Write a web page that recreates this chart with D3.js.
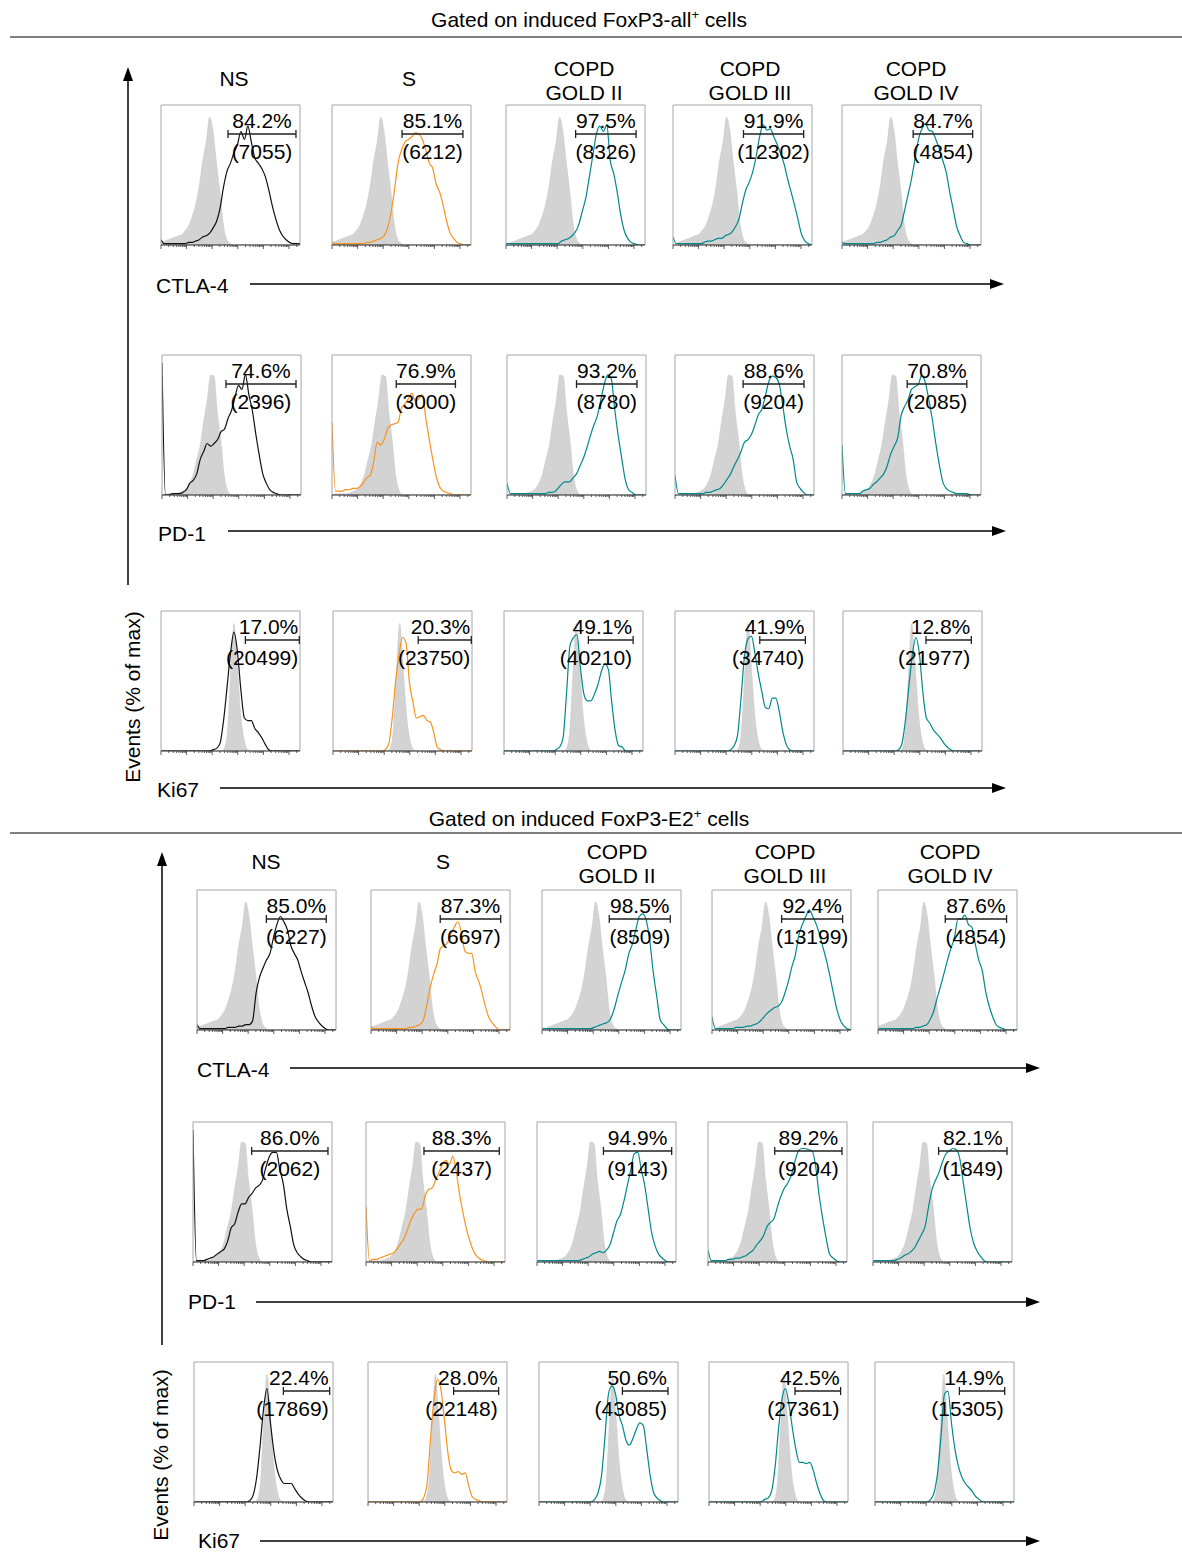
<!DOCTYPE html>
<html>
<head>
<meta charset="utf-8">
<script src="https://cdn.jsdelivr.net/npm/d3@7"></script>
<style>
  body { margin: 0; background: #fff; }
  text { font-family: "Liberation Sans", Arial, Helvetica, sans-serif; fill: #000; }
</style>
</head>
<body>
<svg id="fig" width="1182" height="1552"></svg>
<script>
// ---------------- data ----------------
const gatedPopulations = ["FoxP3-all", "FoxP3-E2"];
const groups = [["NS"], ["S"], ["COPD", "GOLD II"], ["COPD", "GOLD III"], ["COPD", "GOLD IV"]];
const markers = ["CTLA-4", "PD-1", "Ki67"];
const yAxisTitle = "Events (% of max)";

// isotype control histograms (% of max, 41 channel bins across the display range)
const isoCTLA4 = [2,3,4,5,6,7,8,11,15,22,31,45,64,78,97,86,62,40,15,4,1,0,0,0,0,0,0,0,0,0,0,0,0,0,0,0,0,0,0,0,0];
const isoPD1   = [0,1,1,1,1,2,3,5,9,16,27,38,56,72,91,90,62,40,14,3,0,0,0,0,0,0,0,0,0,0,0,0,0,0,0,0,0,0,0,0,0];
const isoKi67  = [0,0,0,0,0,0,0,0,0,0,0,0,0,0,0,0,0,0,1,12,58,97,64,27,8,1,0,0,0,0,0,0,0,0,0,0,0,0,0,0,0];

// channel offset of the isotype peak per panel [marker][group]
const isoShiftAll = [[0, 0, 0.035, 0.035, 0], [0, 0.01, 0.03, 0.035, 0.012], [0, -0.045, -0.005, 0, -0.03]];
const isoShiftE2  = [[0, -0.005, 0.035, 0.035, -0.02], [0, 0.01, 0.035, 0.015, 0.01], [0, -0.04, 0.005, 0.015, -0.03]];

// stained histograms, FoxP3-all+ cells [group][bin]
const allCTLA4 = [
  [4,1,1,1,1,1,1,1,2,2,3,4,6,7,9,13,18,28,44,56,62,70,76,86,80,90,78,66,62,58,52,42,30,20,12,7,4,2,1,1,1],
  [2,1,1,1,1,1,1,1,1,1,2,2,3,4,5,7,13,25,42,62,72,78,80,82,85,84,80,72,62,58,46,40,30,18,9,5,2,1,0,0,0],
  [1,1,1,1,1,1,1,1,1,1,1,1,1,1,1,1,3,4,5,7,10,16,26,36,52,68,84,90,86,91,64,54,40,23,11,5,2,1,0,0,0],
  [6,1,1,1,1,1,1,1,1,2,3,3,4,5,5,7,8,10,14,20,32,42,48,56,68,83,91,87,88,82,76,69,61,50,40,30,19,8,3,1,0],
  [2,1,1,1,1,1,1,1,1,1,2,2,3,4,6,7,11,15,26,38,50,65,80,88,92,87,86,80,73,64,55,40,27,14,7,2,1,0,0,0,0]
];
const allPD1 = [
  [100,0,0,1,1,1,2,4,9,11,16,27,33,39,37,39,42,48,50,58,64,74,83,80,91,76,64,46,30,16,9,4,2,1,0,0,0,0,0,0,0],
  [55,3,3,3,4,4,5,5,6,9,13,15,25,40,38,42,50,53,54,55,66,69,73,77,71,73,76,58,42,27,14,6,3,2,1,0,0,0,0,0,0],
  [9,1,1,1,1,1,1,1,1,1,1,1,2,2,3,6,9,10,10,13,16,22,28,36,45,53,60,72,84,91,88,65,45,28,12,4,2,0,0,0,0],
  [15,1,1,1,1,1,1,1,1,2,2,3,4,5,8,12,16,22,27,33,40,42,46,53,61,65,75,86,90,89,84,68,50,37,27,10,5,2,0,0,0],
  [38,1,1,1,1,1,3,4,5,8,10,13,16,22,31,37,43,60,67,72,80,82,84,91,85,72,57,39,23,10,5,3,2,1,1,1,1,0,0,0,0]
];
const allKi67 = [
  [0,0,0,0,0,0,0,0,0,0,0,0,0,0,0,1,2,6,23,48,74,90,75,46,25,23,23,17,14,10,5,1,0,0,0,0,0,0,0,0,0],
  [0,0,0,0,0,0,0,0,0,0,0,0,0,0,0,1,5,24,52,73,86,82,52,37,25,26,27,23,22,14,3,1,0,0,0,0,0,0,0,0,0],
  [0,0,0,0,0,0,0,0,0,0,0,0,0,0,0,1,3,10,44,80,86,88,63,43,38,38,43,50,60,66,62,37,15,4,3,0,0,0,0,0,0],
  [0,0,0,0,0,0,0,0,0,0,0,0,0,0,0,0,1,4,12,40,72,85,87,74,58,45,33,32,40,40,30,15,5,1,0,0,0,0,0,0,0],
  [0,0,0,0,0,0,0,0,0,0,0,0,0,0,0,0,1,6,24,50,74,86,73,44,25,21,16,13,10,6,3,1,0,0,0,0,0,0,0,0,0]
];

// stained histograms, FoxP3-E2+ cells [group][bin]
const e2CTLA4 = [
  [4,1,1,1,1,1,1,1,1,2,2,2,3,3,4,4,7,28,40,47,53,58,70,80,86,82,76,64,58,53,44,36,28,18,10,6,3,1,0,0,0],
  [2,1,1,1,1,1,1,1,1,1,1,2,2,3,4,7,18,32,42,50,62,64,66,73,78,82,74,60,58,58,44,37,28,17,9,5,2,0,0,0,0],
  [1,1,1,1,1,1,1,1,1,1,1,1,1,1,1,2,3,4,5,6,10,18,28,37,46,58,65,76,86,88,83,68,44,26,8,4,1,0,0,0,0],
  [10,1,1,1,1,1,1,2,2,2,3,3,4,5,7,10,13,15,17,18,21,28,37,48,57,72,80,86,91,86,80,72,62,52,40,27,15,7,3,1,0],
  [1,1,1,1,1,1,1,1,1,1,1,2,2,3,4,8,14,24,33,43,53,62,70,84,84,87,80,78,65,53,45,29,18,10,4,2,1,0,0,0,0]
];
const e2PD1 = [
  [100,1,1,1,2,3,4,6,8,10,16,26,29,38,44,44,49,52,56,58,62,72,80,83,83,70,59,40,27,13,7,4,2,1,0,0,0,0,0,0,0],
  [42,1,2,2,3,4,5,6,7,10,14,18,25,32,37,40,40,50,55,56,62,68,74,77,74,80,68,50,36,24,15,8,4,2,1,0,0,0,0,0,0],
  [1,1,1,1,1,1,1,1,1,1,1,1,1,2,3,4,6,7,8,7,9,13,22,31,36,46,58,70,82,83,70,58,40,22,12,6,3,1,0,0,0],
  [9,1,1,1,1,1,2,2,3,3,4,5,7,9,13,16,20,27,30,33,42,50,56,60,66,76,84,86,86,85,84,72,50,33,18,6,3,1,0,0,0],
  [1,1,1,1,1,1,1,2,3,5,6,8,11,16,21,27,42,55,62,68,76,82,84,86,85,78,60,42,25,14,8,4,1,0,0,0,0,0,0,0,0]
];
const e2Ki67 = [
  [0,0,0,0,0,0,0,0,0,0,0,0,0,0,0,0,1,5,18,42,70,86,60,38,24,17,14,14,14,10,6,3,1,0,0,0,0,0,0,0,0],
  [0,0,0,0,0,0,0,0,0,0,0,0,0,0,0,0,3,14,48,78,93,85,62,37,24,22,23,21,22,12,4,2,1,0,0,0,0,0,0,0,0],
  [0,0,0,0,0,0,0,0,0,0,0,0,0,0,0,0,2,7,20,50,82,88,82,66,58,47,43,48,55,60,58,40,20,7,3,1,0,0,0,0,0],
  [0,0,0,0,0,0,0,0,0,0,0,0,0,0,0,0,2,3,8,26,55,78,86,74,56,40,30,30,29,30,24,14,6,1,0,0,0,0,0,0,0],
  [0,0,0,0,0,0,0,0,0,0,0,0,0,0,0,0,2,7,22,50,82,84,60,40,27,19,14,11,8,4,2,0,0,0,0,0,0,0,0,0,0]
];

// positive gates (fraction of display range) [marker][group]
const allGates = [
  [[0.482, 0.971], [0.504, 0.942], [0.501, 0.936], [0.507, 0.940], [0.512, 0.940]],
  [[0.460, 0.964], [0.462, 0.888], [0.500, 0.935], [0.490, 0.928], [0.469, 0.898]],
  [[0.607, 0.995], [0.613, 0.995], [0.607, 0.929], [0.610, 0.938], [0.597, 0.923]]
];
const e2Gates = [
  [[0.499, 0.930], [0.498, 0.933], [0.484, 0.923], [0.501, 0.940], [0.484, 0.925]],
  [[0.422, 0.971], [0.417, 0.959], [0.478, 0.969], [0.480, 0.964], [0.472, 0.964]],
  [[0.643, 0.976], [0.616, 0.940], [0.600, 0.928], [0.619, 0.947], [0.607, 0.933]]
];

// % positive and MFI [marker][group]
const allPct = [[84.2, 85.1, 97.5, 91.9, 84.7], [74.6, 76.9, 93.2, 88.6, 70.8], [17.0, 20.3, 49.1, 41.9, 12.8]];
const allMfi = [[7055, 6212, 8326, 12302, 4854], [2396, 3000, 8780, 9204, 2085], [20499, 23750, 40210, 34740, 21977]];
const e2Pct  = [[85.0, 87.3, 98.5, 92.4, 87.6], [86.0, 88.3, 94.9, 89.2, 82.1], [22.4, 28.0, 50.6, 42.5, 14.9]];
const e2Mfi  = [[6227, 6697, 8509, 13199, 4854], [2062, 2437, 9143, 9204, 1849], [17869, 22148, 43085, 27361, 15305]];

// ---------------- layout & style ----------------
const groupColors = ["#111111", "#f7931e", "#00898b", "#00898b", "#00898b"];
const PW = 139, PH = 140, FS = 21;

const sections = [
  {
    population: gatedPopulations[0],
    iso: [isoCTLA4, isoPD1, isoKi67], isoShift: isoShiftAll,
    curves: [allCTLA4, allPD1, allKi67], gates: allGates, pct: allPct, mfi: allMfi,
    titleY: 27, ruleY: 37,
    axisX: 128, axisTop: 67, axisBottom: 585, yLabelX: 140, yLabelY: 697,
    headerX: [234, 409, 584, 750, 916], headerY: 86,
    rowTop: [105, 355, 611],
    colLeft: [[161, 332, 506, 673, 842], [162, 332, 507, 675, 842], [161, 333, 504, 675, 843]],
    rows: [
      { lx: 156, ly: 293, a0: 250, a1: 1004, ay: 284 },
      { lx: 158, ly: 541, a0: 228, a1: 1006, ay: 531 },
      { lx: 157, ly: 797, a0: 220, a1: 1006, ay: 788 }
    ]
  },
  {
    population: gatedPopulations[1],
    iso: [isoCTLA4, isoPD1, isoKi67], isoShift: isoShiftE2,
    curves: [e2CTLA4, e2PD1, e2Ki67], gates: e2Gates, pct: e2Pct, mfi: e2Mfi,
    titleY: 826, ruleY: 833,
    axisX: 162, axisTop: 852, axisBottom: 1345, yLabelX: 168, yLabelY: 1455,
    headerX: [266, 443, 617, 785, 950], headerY: 869,
    rowTop: [890, 1122, 1362],
    colLeft: [[197, 371, 542, 712, 878], [193, 366, 537, 708, 873], [194, 368, 539, 709, 875]],
    rows: [
      { lx: 197, ly: 1077, a0: 290, a1: 1040, ay: 1068 },
      { lx: 188, ly: 1309, a0: 256, a1: 1040, ay: 1302 },
      { lx: 198, ly: 1548, a0: 260, a1: 1040, ay: 1541 }
    ]
  }
];

const svg = d3.select("#fig");
const defs = svg.append("defs");
const fmtPct = d3.format(".1f");
let clipId = 0;

function arrowUp(g, x, tipY, baseY) {
  g.append("line").attr("x1", x).attr("x2", x).attr("y1", baseY).attr("y2", tipY + 12)
    .attr("stroke", "#000").attr("stroke-width", 1.5);
  g.append("path").attr("d", `M${x},${tipY} L${x - 5},${tipY + 14} L${x + 5},${tipY + 14} Z`).attr("fill", "#000");
}
function arrowRight(g, x0, tipX, y) {
  g.append("line").attr("x1", x0).attr("x2", tipX - 12).attr("y1", y).attr("y2", y)
    .attr("stroke", "#000").attr("stroke-width", 1.5);
  g.append("path").attr("d", `M${tipX},${y} L${tipX - 14},${y - 5} L${tipX - 14},${y + 5} Z`).attr("fill", "#000");
}

sections.forEach(sec => {
  const g = svg.append("g");

  // section title with superscript plus sign, rule below it
  const t = g.append("text").attr("x", 589).attr("y", sec.titleY).attr("text-anchor", "middle")
    .attr("font-size", FS);
  t.append("tspan").text(`Gated on induced ${sec.population}`);
  t.append("tspan").attr("font-size", 13).attr("dy", -8).text("+");
  t.append("tspan").attr("dy", 8).text(" cells");
  g.append("line").attr("x1", 10).attr("x2", 1182).attr("y1", sec.ruleY).attr("y2", sec.ruleY)
    .attr("stroke", "#000").attr("stroke-width", 1.2);

  // shared y axis arrow + title
  arrowUp(g, sec.axisX, sec.axisTop, sec.axisBottom);
  g.append("text").attr("transform", `translate(${sec.yLabelX},${sec.yLabelY}) rotate(-90)`)
    .attr("text-anchor", "middle").attr("font-size", FS).text(yAxisTitle);

  // group headers
  groups.forEach((lines, c) => {
    const n = lines.length;
    lines.forEach((s, k) => {
      g.append("text").attr("x", sec.headerX[c]).attr("y", sec.headerY - (n - 1 - k) * 24 - (n > 1 ? -14 : 0))
        .attr("text-anchor", "middle").attr("font-size", FS).text(s);
    });
  });

  markers.forEach((m, r) => {
    const row = sec.rows[r];
    g.append("text").attr("x", row.lx).attr("y", row.ly).attr("font-size", FS).text(m);
    arrowRight(g, row.a0, row.a1, row.ay);

    groups.forEach((_, c) => {
      const left = sec.colLeft[r][c], top = sec.rowTop[r], bottom = top + PH;
      const x = d3.scaleLinear().domain([0, 1]).range([left, left + PW]);
      const y = d3.scaleLinear().domain([0, 100]).range([bottom, top + 8]);
      const logX = d3.scaleLog().domain([1, Math.pow(10, 5.43)]).range([left, left + PW]);
      const pg = g.append("g");

      const id = "clip" + (clipId++);
      defs.append("clipPath").attr("id", id).append("rect")
        .attr("x", left).attr("y", top).attr("width", PW).attr("height", PH);
      const plot = pg.append("g").attr("clip-path", `url(#${id})`);

      const shift = sec.isoShift[r][c];
      const nb = sec.iso[r].length - 1;
      const area = d3.area()
        .x((d, i) => x(i / nb + shift)).y0(bottom).y1(d => y(d))
        .curve(d3.curveMonotoneX);
      plot.append("path").datum(sec.iso[r]).attr("d", area)
        .attr("fill", "#d3d3d3").attr("stroke", "#b8b8b8").attr("stroke-width", 0.6)
        .attr("stroke-dasharray", "1,1");

      const curve = sec.curves[r][c];
      const line = d3.line()
        .x((d, i) => x(i / (curve.length - 1))).y(d => y(d))
        .curve(d3.curveMonotoneX);
      plot.append("path").datum(curve).attr("d", line)
        .attr("fill", "none").attr("stroke", groupColors[c]).attr("stroke-width", 1.2)
        .attr("stroke-linejoin", "round");

      // frame: light on three sides, dark axis at the bottom
      pg.append("path").attr("d", `M${left},${bottom} V${top} H${left + PW} V${bottom}`)
        .attr("fill", "none").attr("stroke", "#a6a6a6").attr("stroke-width", 1);
      pg.append("line").attr("x1", left).attr("x2", left + PW).attr("y1", bottom).attr("y2", bottom)
        .attr("stroke", "#222").attr("stroke-width", 1);
      pg.selectAll("line.tick").data(logX.ticks()).enter().append("line")
        .attr("x1", d => logX(d)).attr("x2", d => logX(d))
        .attr("y1", bottom)
        .attr("y2", d => bottom + (Math.abs(Math.log10(d) - Math.round(Math.log10(d))) < 1e-9 ? 4 : 2))
        .attr("stroke", "#333").attr("stroke-width", 0.8);

      // gate bar with end caps
      const [g0, g1] = sec.gates[r][c];
      const gy = top + 29;
      pg.append("path")
        .attr("d", `M${x(g0)},${gy - 4} V${gy + 4} M${x(g0)},${gy} H${x(g1)} M${x(g1)},${gy - 4} V${gy + 4}`)
        .attr("stroke", "#222").attr("stroke-width", 1.3).attr("fill", "none");

      const ki = r === 2;
      const tx = ki ? x(g1) - 1 : (x(g0) + x(g1)) / 2;
      const anchor = ki ? "end" : "middle";
      pg.append("text").attr("x", tx).attr("y", top + 23).attr("text-anchor", anchor)
        .attr("font-size", FS).text(fmtPct(sec.pct[r][c]) + "%");
      pg.append("text").attr("x", tx).attr("y", top + 54).attr("text-anchor", anchor)
        .attr("font-size", FS).text(`(${sec.mfi[r][c]})`);
    });
  });
});
</script>
</body>
</html>
